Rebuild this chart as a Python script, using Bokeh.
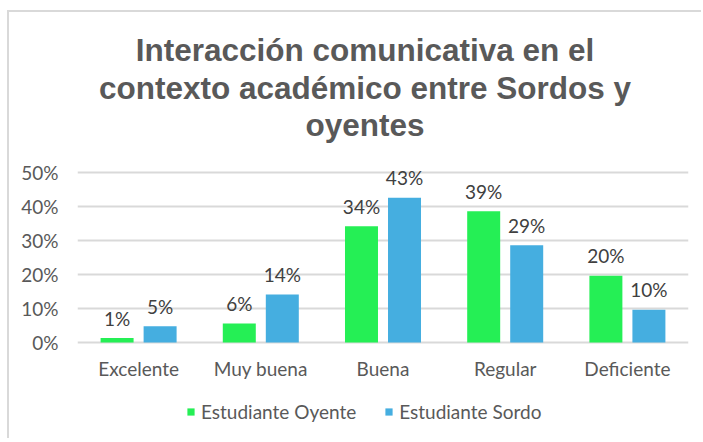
from bokeh.plotting import figure
from bokeh.models import ColumnDataSource, FactorRange, Legend, LegendItem, FixedTicker, NumeralTickFormatter
from bokeh.transform import dodge
from bokeh.core.properties import value
from bokeh.embed import file_html
from bokeh.resources import INLINE

categories = ["Excelente", "Muy buena", "Buena", "Regular", "Deficiente"]
oyente = [0.013, 0.056, 0.342, 0.386, 0.196]
sordo = [0.048, 0.141, 0.426, 0.286, 0.096]
series_names = ["Estudiante Oyente", "Estudiante Sordo"]
y_ticks = [0, 0.1, 0.2, 0.3, 0.4, 0.5]
title_lines = ["Interacción comunicativa en el", "contexto académico entre Sordos y", "oyentes"]

GREEN = "#25ef55"
BLUE = "#45aee0"
GRID = "#d9d9d9"
TXT = "#595959"
LBL = "#404040"
FONT = "Lato"
FS = "19px"

# layout constants (pixels)
PX_PER_UNIT = 340.0
CANVAS_H = 428
TOP_PX = 160        # distance from canvas top to the highest tick line
title_baselines = [-123, -85, -48]   # baseline offsets of title lines from highest tick line

y_top = y_ticks[-1]
y_end = y_top + TOP_PX / PX_PER_UNIT
y_start = y_end - CANVAS_H / PX_PER_UNIT

src = ColumnDataSource(dict(
    cat=categories,
    oyente=oyente,
    sordo=sordo,
    oyente_lbl=[f"{round(v*100)}%" for v in oyente],
    sordo_lbl=[f"{round(v*100)}%" for v in sordo],
))

title_src = ColumnDataSource(dict(
    text=title_lines,
    x=[len(categories) / 2] * len(title_lines),
    y=[y_top] * len(title_lines),
    yoff=title_baselines,
))

p = figure(x_range=FactorRange(*categories), y_range=(y_start, y_end),
           width=694, height=CANVAS_H, output_backend="svg", toolbar_location=None,
           title=None, min_border_left=68, min_border_right=15,
           min_border_top=0, min_border_bottom=0, margin=(10, 0, 0, 7),
           styles={"border-top": "2px solid #d9d9d9", "border-left": "2px solid #d9d9d9"})

p.text(x="x", y="y", text="text", y_offset="yoff", x_offset=-18, source=title_src,
       text_align="center", text_baseline="alphabetic",
       text_font=value("Liberation Sans"), text_font_size="31.5px",
       text_font_style="bold", text_color=TXT)

off = 0.176
w = 0.27
r1 = p.vbar(x=dodge("cat", -off, range=p.x_range), top="oyente", width=w, source=src,
            fill_color=GREEN, line_color=None)
r2 = p.vbar(x=dodge("cat", off, range=p.x_range), top="sordo", width=w, source=src,
            fill_color=BLUE, line_color=None)

p.text(x=dodge("cat", -off, range=p.x_range), y="oyente", text="oyente_lbl", source=src,
       text_align="center", text_baseline="alphabetic", y_offset=-20,
       text_font=value(FONT), text_font_size=FS, text_color=LBL)
p.text(x=dodge("cat", off, range=p.x_range), y="sordo", text="sordo_lbl", source=src,
       text_align="center", text_baseline="alphabetic", y_offset=-20,
       text_font=value(FONT), text_font_size=FS, text_color=LBL)

# category labels under the baseline
p.text(x="cat", y=0, text="cat", source=src, text_align="center", text_baseline="middle",
       y_offset=26, text_font=value(FONT), text_font_size=FS, text_color=TXT)

p.outline_line_color = None
p.xaxis.visible = False
p.xgrid.grid_line_color = None
p.ygrid.grid_line_color = GRID
p.ygrid.grid_line_width = 2
p.yaxis.ticker = FixedTicker(ticks=y_ticks)
p.yaxis.formatter = NumeralTickFormatter(format="0%")
p.yaxis.axis_line_color = None
p.yaxis.major_tick_line_color = None
p.yaxis.minor_tick_line_color = None
p.yaxis.major_label_standoff = 13
p.yaxis.major_label_text_font = FONT
p.yaxis.major_label_text_font_size = FS
p.yaxis.major_label_text_color = TXT
p.x_range.range_padding = 0
p.x_range.group_padding = 0

legend = Legend(items=[LegendItem(label=series_names[0], renderers=[r1]),
                       LegendItem(label=series_names[1], renderers=[r2])],
                orientation="horizontal", location=(109, 17),
                label_text_font=FONT, label_text_font_size=FS, label_text_color=TXT,
                glyph_width=9, glyph_height=9, label_standoff=6, spacing=28,
                border_line_color=None, background_fill_alpha=0, padding=0, margin=0)
p.add_layout(legend, "center")

open("out.html", "w").write(file_html(p, INLINE))
